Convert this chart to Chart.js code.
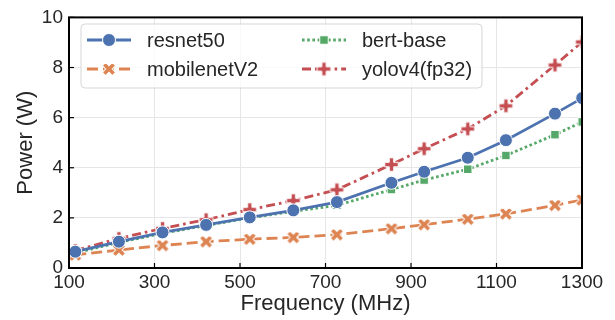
<!DOCTYPE html>
<html>
<head>
<meta charset="utf-8">
<script src="https://cdn.jsdelivr.net/npm/chart.js@4.4.1/dist/chart.umd.min.js"></script>
<style>
  html, body { margin: 0; padding: 0; background: #fff; }
  #wrap { width: 615px; height: 320px; }
</style>
</head>
<body>
<div id="wrap"><canvas id="power"></canvas></div>
<script>
// GPU frequencies (MHz) and measured power (W)
const freqs = [114.75, 216.75, 318.75, 420.75, 522.75, 624.75, 726.75, 854.25, 930.75, 1032.75, 1122, 1236.75, 1300.5];
const resnet50 = [0.65, 1.05, 1.42, 1.72, 2.02, 2.3, 2.63, 3.4, 3.84, 4.4, 5.1, 6.16, 6.78];
const mobilenetV2 = [0.52, 0.72, 0.9, 1.05, 1.15, 1.22, 1.33, 1.57, 1.73, 1.95, 2.16, 2.5, 2.72];
const bertBase = [0.6, 1.02, 1.38, 1.7, 2.0, 2.26, 2.5, 3.13, 3.51, 3.94, 4.49, 5.32, 5.83];
const yolov4 = [0.7, 1.18, 1.58, 1.93, 2.33, 2.69, 3.12, 4.13, 4.76, 5.55, 6.47, 8.1, 9.02];
const labels = ["resnet50", "mobilenetV2", "bert-base", "yolov4(fp32)"];

const FONT = "'Liberation Sans', Arial, sans-serif";
const TEXT = "#262626";

// filled plus / filled X markers like matplotlib 'P' and 'X'
function markerCanvas(shape, color, size) {
    const c = document.createElement("canvas");
    c.width = c.height = size + 6;
    const ctx = c.getContext("2d");
    ctx.translate(c.width / 2, c.height / 2);
    if (shape === "X") ctx.rotate(Math.PI / 4);
    const h = size / 2, w = size / 6;
    const pts = [[-w,-h],[w,-h],[w,-w],[h,-w],[h,w],[w,w],[w,h],[-w,h],[-w,w],[-h,w],[-h,-w],[-w,-w]];
    ctx.beginPath();
    pts.forEach((p, i) => i ? ctx.lineTo(p[0], p[1]) : ctx.moveTo(p[0], p[1]));
    ctx.closePath();
    ctx.fillStyle = color;
    ctx.fill();
    ctx.strokeStyle = "#fff";
    ctx.lineWidth = 1;
    ctx.stroke();
    return c;
}

const colors = ["#4C72B0", "#DD8452", "#55A868", "#C44E52"];
const styles = [
    { dash: [], point: "circle", radius: 6.5 },
    { dash: [11, 5], point: markerCanvas("X", colors[1], 14), radius: 7 },
    { dash: [2.6, 2.6], point: "rect", radius: 6 },
    { dash: [9, 4, 2.6, 4], point: markerCanvas("P", colors[3], 13.5), radius: 7 },
];
const series = [resnet50, mobilenetV2, bertBase, yolov4];

// frame, inward ticks and legend, matplotlib style
const framePlugin = {
    id: "frame",
    afterDraw(chart) {
        const { ctx, chartArea: a, scales } = chart;
        ctx.save();
        ctx.strokeStyle = "#000";
        ctx.lineWidth = 1.2;
        scales.x.ticks.forEach(t => {
            const px = scales.x.getPixelForValue(t.value);
            ctx.beginPath(); ctx.moveTo(px, a.bottom); ctx.lineTo(px, a.bottom - 5); ctx.stroke();
        });
        scales.y.ticks.forEach(t => {
            const py = scales.y.getPixelForValue(t.value);
            ctx.beginPath(); ctx.moveTo(a.left, py); ctx.lineTo(a.left + 5, py); ctx.stroke();
        });
        ctx.lineWidth = 2;
        ctx.strokeRect(a.left, a.top, a.right - a.left, a.bottom - a.top);

        // legend
        const bx = 81, by = 24, bw = 401, bh = 64, r = 4;
        ctx.beginPath();
        ctx.roundRect(bx, by, bw, bh, r);
        ctx.fillStyle = "rgba(255,255,255,0.8)";
        ctx.fill();
        ctx.strokeStyle = "rgba(204,204,204,0.8)";
        ctx.lineWidth = 1;
        ctx.stroke();
        const cols = [87, 302], rows = [40, 69];
        ctx.font = "20px " + FONT;
        ctx.textBaseline = "middle";
        chart.data.datasets.forEach((ds, i) => {
            const x0 = cols[Math.floor(i / 2)], y0 = rows[i % 2];
            ctx.strokeStyle = ds.borderColor;
            ctx.lineWidth = ds.borderWidth;
            ctx.setLineDash(ds.borderDash);
            ctx.beginPath(); ctx.moveTo(x0, y0); ctx.lineTo(x0 + 44, y0); ctx.stroke();
            ctx.setLineDash([]);
            ctx.fillStyle = ds.pointBackgroundColor;
            ctx.strokeStyle = "#fff";
            ctx.lineWidth = 1;
            Chart.helpers.drawPoint(ctx, { pointStyle: ds.pointStyle, radius: ds.pointRadius, rotation: 0, borderWidth: 1 }, x0 + 22, y0);
            ctx.fillStyle = TEXT;
            ctx.fillText(ds.label, x0 + 60, y0 + 1);
        });
        ctx.restore();
    }
};

new Chart(document.getElementById("power"), {
    type: "line",
    data: {
        datasets: series.map((vals, i) => ({
            label: labels[i],
            data: freqs.map((f, j) => ({ x: f, y: vals[j] })),
            borderColor: colors[i],
            backgroundColor: colors[i],
            pointBackgroundColor: colors[i],
            pointBorderColor: "#fff",
            pointBorderWidth: 1,
            borderWidth: 2.8,
            borderDash: styles[i].dash,
            pointStyle: styles[i].point,
            pointRadius: styles[i].radius,
            tension: 0,
            clip: 0,
        })),
    },
    options: {
        responsive: true,
        maintainAspectRatio: false,
        animation: false,
        events: [],
        layout: { padding: { top: 13, right: 33, left: 0, bottom: 0 } },
        plugins: { legend: { display: false }, tooltip: { enabled: false } },
        scales: {
            x: {
                type: "linear",
                min: 100,
                max: 1300,
                afterFit: (s) => { s.height = 52; },
                ticks: { stepSize: 200, color: TEXT, padding: 3, maxRotation: 0, callback: (v) => String(v), font: { family: FONT, size: 19 } },
                grid: { color: "#e6e6e6", drawTicks: false },
                border: { display: false },
                title: { display: true, text: "Frequency (MHz)", color: TEXT, padding: { top: 0, bottom: 3 }, font: { family: FONT, size: 22 } },
            },
            y: {
                min: 0,
                max: 10,
                afterFit: (s) => { s.width = 69; },
                ticks: { stepSize: 2, color: TEXT, padding: 6, callback: (v) => String(v), font: { family: FONT, size: 19 } },
                grid: { color: "#e6e6e6", drawTicks: false },
                border: { display: false },
                title: { display: true, text: "Power (W)", color: TEXT, padding: { top: 13, bottom: 0 }, font: { family: FONT, size: 22 } },
            },
        },
    },
    plugins: [framePlugin],
});
</script>
</body>
</html>
